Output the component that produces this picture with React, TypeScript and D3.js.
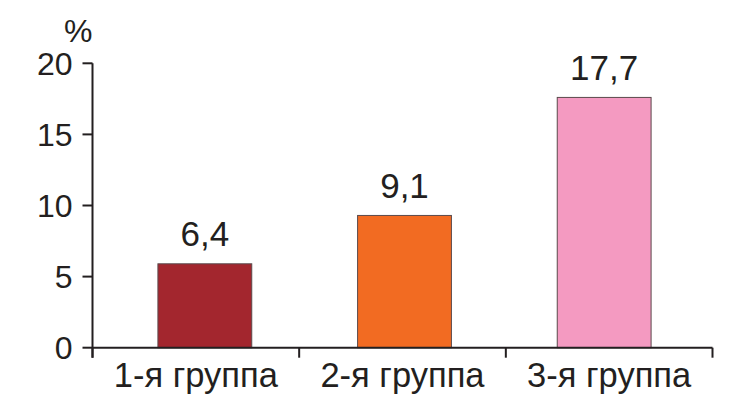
import { useMemo } from 'react';
import * as d3 from 'd3';

// data
const groups = ['1-я группа', '2-я группа', '3-я группа'];
const barValues = [5.9, 9.3, 17.6]; // drawn bar heights
const barLabels = ['6,4', '9,1', '17,7']; // labels printed above bars
const barColors = ['#a3262e', '#f26b22', '#f49ac1'];
const yTicks = [0, 5, 10, 15, 20];

const width = 731,
  height = 398;
const AXIS = { left: 92.5, right: 712.5, top: 63.3, bottom: 347.7 };
const INK = '#231f20';
const FONT = '"Liberation Sans", Arial, sans-serif';

export default function App() {
  const yScale = useMemo(
    () => d3.scaleLinear().domain([0, 20]).range([AXIS.bottom, AXIS.top]),
    []
  );

  // category slots along the axis (ticks + labels)
  const xScale = useMemo(
    () => d3.scaleBand().domain(groups).range([AXIS.left, AXIS.right]),
    []
  );

  // bars sit a little inward of the slots in the original
  const barScale = useMemo(
    () =>
      d3
        .scaleBand()
        .domain(groups)
        .range([105, 704])
        .paddingInner(0.53)
        .paddingOuter(0.265),
    []
  );

  const bars = groups.map((g, i) => {
    const x = barScale(g) ?? 0;
    const w = barScale.bandwidth();
    const y = yScale(barValues[i]);
    return (
      <g key={g}>
        <rect
          x={x}
          y={y}
          width={w}
          height={yScale(0) - y}
          fill={barColors[i]}
          stroke="#5b4a4c"
          strokeWidth={1}
        />
        <text
          x={x + w / 2}
          y={y - 17.5}
          textAnchor="middle"
          fontSize={35}
          fill={INK}
        >
          {barLabels[i]}
        </text>
      </g>
    );
  });

  const yAxis = yTicks.map(t => (
    <g key={t}>
      <line x1={AXIS.left - 10} x2={AXIS.left} y1={yScale(t)} y2={yScale(t)} stroke={INK} strokeWidth={2} />
      <text
        x={AXIS.left - 20}
        y={yScale(t) + 11.5}
        textAnchor="end"
        fontSize={32}
        fill={INK}
      >
        {t}
      </text>
    </g>
  ));

  const xTickPos = [AXIS.left, ...groups.map(g => (xScale(g) ?? 0) + xScale.bandwidth())];

  const xAxis = (
    <g>
      {xTickPos.map((p, i) => (
        <line key={i} x1={p} x2={p} y1={AXIS.bottom} y2={AXIS.bottom + 10} stroke={INK} strokeWidth={2} />
      ))}
      {groups.map(g => (
        <text
          key={g}
          x={(xScale(g) ?? 0) + xScale.bandwidth() / 2}
          y={387}
          textAnchor="middle"
          fontSize={34.5}
          fill={INK}
        >
          {g}
        </text>
      ))}
    </g>
  );

  return (
    <div style={{ position: 'fixed', left: 0, top: 0 }}>
      <svg width={width} height={height} style={{ display: 'block', background: '#fff' }} fontFamily={FONT}>
        {bars}
        <line x1={AXIS.left} x2={AXIS.left} y1={AXIS.top} y2={AXIS.bottom + 10} stroke={INK} strokeWidth={2} />
        <line x1={AXIS.left} x2={AXIS.right} y1={AXIS.bottom} y2={AXIS.bottom} stroke={INK} strokeWidth={2} />
        {yAxis}
        {xAxis}
        <text x={AXIS.left} y={41.5} textAnchor="end" fontSize={32} fill={INK}>
          %
        </text>
      </svg>
    </div>
  );
}
